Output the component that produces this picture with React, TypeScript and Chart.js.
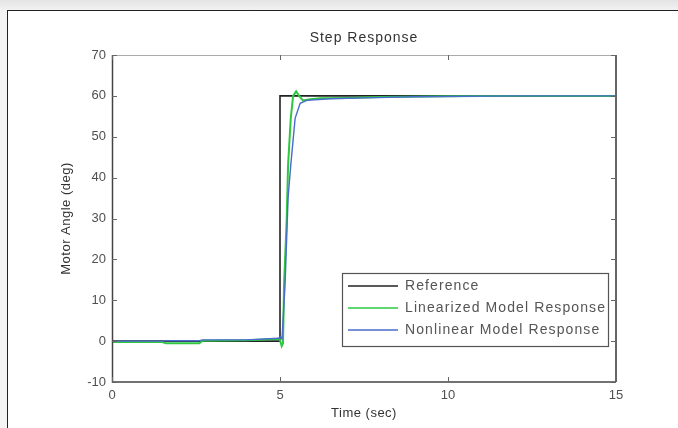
import React, { useEffect, useRef } from "react";
import { Chart, registerables } from "chart.js";

Chart.register(...registerables);

const TITLE = "Step Response";
const X_LABEL = "Time (sec)";
const Y_LABEL = "Motor Angle (deg)";
const X_TICKS = [0, 5, 10, 15];
const Y_TICKS = [-10, 0, 10, 20, 30, 40, 50, 60, 70];
const SERIES_NAMES = ["Reference", "Linearized Model Response", "Nonlinear Model Response"];
const SERIES_COLORS = ["#222222", "#2ec840", "#4a6bd0"];

const REF_T = [0, 5, 5, 15];
const REF_Y = [0, 0, 60, 60];

const LIN_T = [0, 1.5, 1.6, 2.6, 2.7, 4.0, 4.95, 5.0, 5.05, 5.09, 5.12, 5.2, 5.24, 5.32, 5.39, 5.48, 5.57, 5.68, 5.9, 6.2, 7, 8, 10, 12, 15];
const LIN_Y = [-0.2, -0.2, -0.5, -0.5, 0.1, 0.2, 0.5, 0.3, -1.2, -0.5, 13.7, 30, 43, 54.5, 60, 61.1, 60, 58.9, 59.2, 59.4, 59.5, 59.7, 59.9, 60, 60];

const NL_T = [0, 1.5, 1.6, 2.6, 2.7, 4.0, 4.95, 5.02, 5.06, 5.15, 5.24, 5.32, 5.45, 5.6, 5.8, 6.5, 7.5, 9, 12, 15];
const NL_Y = [0, 0, 0.1, 0.1, 0.3, 0.3, 0.7, 1, 0.5, 13.7, 35, 43, 54.5, 58.2, 58.9, 59.3, 59.5, 59.8, 60, 60];

const FONT = "'Liberation Sans', Arial, sans-serif";

function pts(t: number[], y: number[]) {
  return t.map((tv, i) => ({ x: tv, y: y[i] }));
}

const decor = {
  id: "decor",
  afterDraw(chart: any) {
    const ctx = chart.ctx;
    const { left, right, top, bottom } = chart.chartArea;
    const xs = chart.scales.x;
    const ys = chart.scales.y;
    ctx.save();
    // box
    ctx.lineWidth = 1;
    ctx.strokeStyle = "#aaaaaa";
    ctx.beginPath();
    ctx.moveTo(left, top + 0.5);
    ctx.lineTo(right, top + 0.5);
    ctx.stroke();
    ctx.strokeStyle = "#444444";
    ctx.lineWidth = 1.5;
    ctx.beginPath();
    ctx.moveTo(left + 0.5, top);
    ctx.lineTo(left + 0.5, bottom);
    ctx.lineTo(right, bottom);
    ctx.stroke();
    ctx.strokeStyle = "#666666";
    ctx.lineWidth = 2;
    ctx.beginPath();
    ctx.moveTo(right, top);
    ctx.lineTo(right, bottom);
    ctx.stroke();
    // ticks
    ctx.lineWidth = 1;
    ctx.strokeStyle = "#666666";
    const tl = 5;
    for (const v of X_TICKS) {
      const px = Math.round(xs.getPixelForValue(v)) + 0.5;
      ctx.beginPath();
      ctx.moveTo(px, bottom);
      ctx.lineTo(px, bottom - tl);
      ctx.moveTo(px, top);
      ctx.lineTo(px, top + tl);
      ctx.stroke();
    }
    for (const v of Y_TICKS) {
      const py = Math.round(ys.getPixelForValue(v)) + 0.5;
      ctx.beginPath();
      ctx.moveTo(left, py);
      ctx.lineTo(left + tl, py);
      ctx.moveTo(right, py);
      ctx.lineTo(right - tl, py);
      ctx.stroke();
    }
    // title
    ctx.fillStyle = "#333333";
    ctx.font = `14px ${FONT}`;
    (ctx as any).letterSpacing = "1px";
    ctx.textAlign = "center";
    ctx.textBaseline = "middle";
    ctx.fillText(TITLE, (left + right) / 2, top - 17);
    // axis titles
    (ctx as any).letterSpacing = "0.5px";
    ctx.font = `13px ${FONT}`;
    ctx.fillText(X_LABEL, (left + right) / 2, bottom + 31);
    ctx.save();
    ctx.translate(left - 46, (top + bottom) / 2);
    ctx.rotate(-Math.PI / 2);
    ctx.fillText(Y_LABEL, 0, 0);
    ctx.restore();
    // legend
    const lx = 334, ly = 262, lw = 266, lh = 73;
    ctx.fillStyle = "#ffffff";
    ctx.fillRect(lx, ly, lw, lh);
    ctx.strokeStyle = "#555555";
    ctx.lineWidth = 1.2;
    ctx.strokeRect(lx + 0.5, ly + 0.5, lw, lh);
    ctx.font = `14px ${FONT}`;
    ctx.textAlign = "left";
    ctx.textBaseline = "middle";
    SERIES_NAMES.forEach((name, i) => {
      const yy = ly + 13 + i * 22;
      ctx.strokeStyle = SERIES_COLORS[i];
      ctx.lineWidth = 1.6;
      ctx.beginPath();
      ctx.moveTo(lx + 6, yy);
      ctx.lineTo(lx + 56, yy);
      ctx.stroke();
      ctx.fillStyle = "#555555";
      (ctx as any).letterSpacing = "1.1px";
      ctx.fillText(name, lx + 63, yy);
    });
    ctx.restore();
  },
};

export default function App() {
  const ref = useRef<HTMLCanvasElement | null>(null);
  useEffect(() => {
    document.body.style.margin = "0";
    const c = ref.current!;
    const chart = new Chart(c, {
      type: "scatter",
      data: {
        datasets: [
          { label: SERIES_NAMES[0], data: pts(REF_T, REF_Y), borderColor: SERIES_COLORS[0], showLine: true, pointRadius: 0, borderWidth: 1.6, order: 3 },
          { label: SERIES_NAMES[1], data: pts(LIN_T, LIN_Y), borderColor: SERIES_COLORS[1], showLine: true, pointRadius: 0, borderWidth: 2, order: 2 },
          { label: SERIES_NAMES[2], data: pts(NL_T, NL_Y), borderColor: SERIES_COLORS[2], showLine: true, pointRadius: 0, borderWidth: 1.4, order: 1 },
        ],
      },
      options: {
        animation: false,
        responsive: false,
        layout: { padding: { top: 44, right: 62, left: 0, bottom: 0 } },
        plugins: { legend: { display: false }, tooltip: { enabled: false }, title: { display: false } },
        scales: {
          x: {
            type: "linear",
            min: 0,
            max: 15,
            afterFit: (s: any) => { s.height = 46; },
            afterBuildTicks: (s: any) => { s.ticks = X_TICKS.map((v) => ({ value: v })); },
            grid: { display: false, drawTicks: false },
            border: { display: false },
            ticks: { color: "#505050", font: { family: FONT, size: 13 }, padding: 6, maxRotation: 0 },
          },
          y: {
            type: "linear",
            min: -10,
            max: 70,
            afterFit: (s: any) => { s.width = 104; },
            afterBuildTicks: (s: any) => { s.ticks = Y_TICKS.map((v) => ({ value: v })); },
            grid: { display: false, drawTicks: false },
            border: { display: false },
            ticks: { color: "#505050", font: { family: FONT, size: 13 }, padding: 6 },
          },
        },
      },
      plugins: [decor],
    });
    return () => chart.destroy();
  }, []);
  return (
    <div style={{ position: "relative", width: 678, height: 428, overflow: "hidden", background: "linear-gradient(#e4e4e4, #f4f4f4 12px)" }}>
      <div style={{ position: "absolute", left: 7, top: 10, width: 671, height: 418, background: "#ffffff", borderLeft: "1.5px solid #222", borderTop: "1.5px solid #222", boxSizing: "border-box" }}>
        <canvas ref={ref} width={670} height={417} style={{ display: "block", width: 670, height: 417 }} />
      </div>
    </div>
  );
}
